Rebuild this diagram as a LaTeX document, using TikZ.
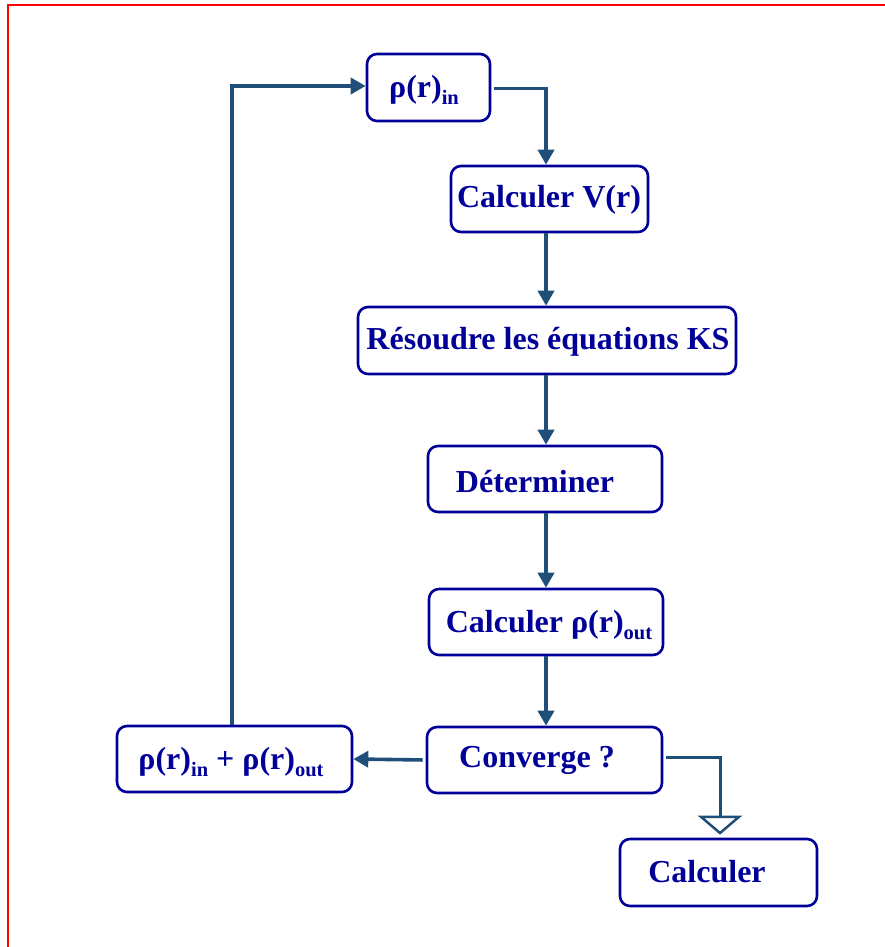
\documentclass[tikz,border=0pt]{standalone}
\usepackage{fontspec}
\setmainfont{Liberation Serif}
\usetikzlibrary{arrows.meta}
\definecolor{boxblue}{RGB}{0,0,153}
\definecolor{linkblue}{RGB}{31,78,121}
\definecolor{framered}{RGB}{255,0,0}
\newcommand{\sbs}[1]{\raisebox{-0.22em}{\fontsize{20.5}{20.5}\selectfont #1}}
\begin{document}
\begin{tikzpicture}[x=1pt,y=-1pt,
  stepbox/.style={draw=boxblue, line width=2.6pt, rounded corners=10pt, inner sep=0pt},
  lbl/.style={text=boxblue, font=\fontsize{32}{32}\selectfont\bfseries, inner sep=0pt},
  link/.style={draw=linkblue, line width=3.6pt, -{Triangle[length=15pt,width=16pt]}},
  plainlink/.style={draw=linkblue, line width=3pt}]
  \useasboundingbox (0,0) rectangle (885,947);
  \begin{scope}
    \clip (0,0) rectangle (885,947);
    \draw[framered, line width=2.2pt] (8,5) rectangle (900,960);
  \end{scope}

  % boxes
  \node[stepbox, minimum width=123pt, minimum height=67pt] (b1) at (428.5,87.5) {};
  \node[stepbox, minimum width=197pt, minimum height=66pt] (b2) at (549.5,199) {};
  \node[stepbox, minimum width=378pt, minimum height=67pt] (b3) at (547,340.5) {};
  \node[stepbox, minimum width=234pt, minimum height=66pt] (b4) at (545,479) {};
  \node[stepbox, minimum width=234pt, minimum height=66pt] (b5) at (546,622) {};
  \node[stepbox, minimum width=235pt, minimum height=66pt] (b6) at (544.5,760) {};
  \node[stepbox, minimum width=235pt, minimum height=66pt] (b7) at (234.5,759) {};
  \node[stepbox, minimum width=197pt, minimum height=67pt] (b8) at (718.5,872.5) {};

  % texts
  \node[lbl] (t1) at (424,90) {ρ(r)\sbs{in}};
  \node[lbl] (t2) at (549,200) {Calculer V(r)};
  \node[lbl] (t3) at (548,342) {Résoudre les équations KS};
  \node[lbl] (t4) at (535,482) {Déterminer};
  \node[lbl] (t5) at (549,625) {Calculer ρ(r)\sbs{out}};
  \node[lbl] (t6) at (537,760) {Converge ?};
  \node[lbl] (t7) at (231,762) {ρ(r)\sbs{in} + ρ(r)\sbs{out}};
  \node[lbl] (t8) at (707,872) {Calculer};

  % connectors
  \coordinate (xc) at (546,0);
  \coordinate (xl) at (232,0);
  \coordinate (xr) at (720,0);
  \draw[link, shorten <=3pt] ([yshift=-1pt]b1.east) -| (b2.north -| xc);
  \draw[link] (b2.south -| xc) -- (b3.north -| xc);
  \draw[link] (b3.south -| xc) -- (b4.north -| xc);
  \draw[link] (b4.south -| xc) -- (b5.north -| xc);
  \draw[link] (b5.south -| xc) -- (b6.north -| xc);
  \draw[link, shorten <=3pt] (b6.west) -- (b7.east);
  \draw[link] (b7.north -| xl) |- ([yshift=1.5pt]b1.west);
  \draw[plainlink, shorten <=3pt, -{Triangle[open, fill=white, length=19pt, width=44pt, line width=2.5pt]}]
    ([yshift=3pt]b6.east) -| ([yshift=3pt]b8.north -| xr);
\end{tikzpicture}
\end{document}
